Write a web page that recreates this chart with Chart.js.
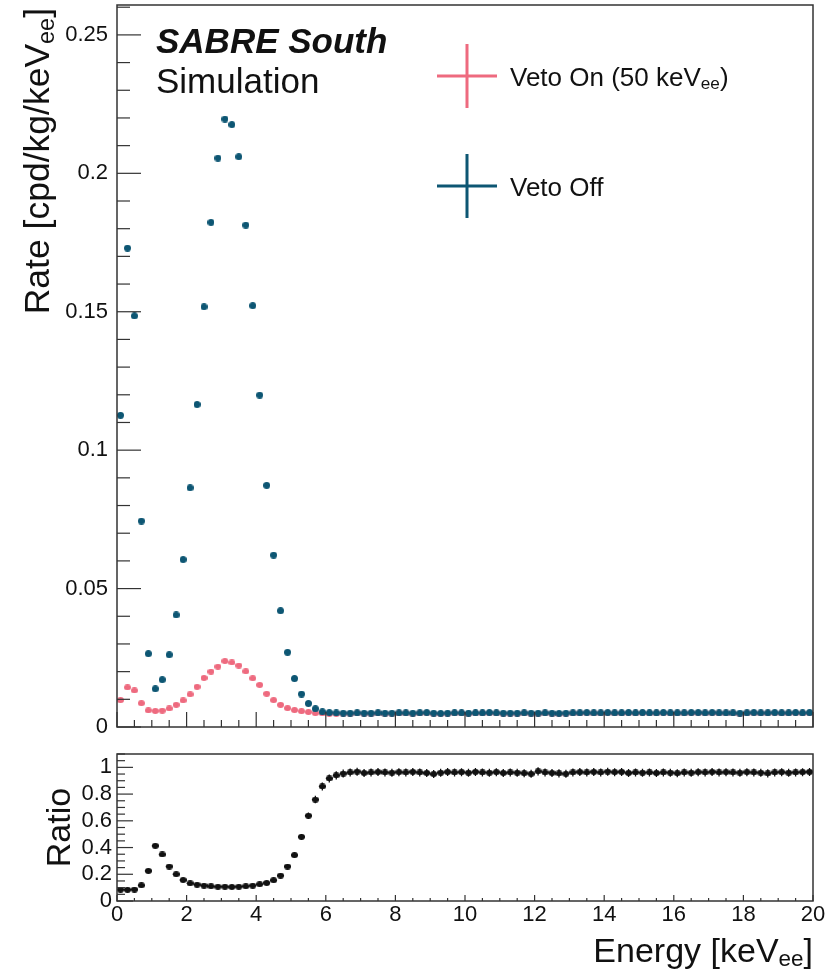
<!DOCTYPE html>
<html>
<head>
<meta charset="utf-8">
<title>SABRE South veto spectrum</title>
<script src="https://cdn.jsdelivr.net/npm/chart.js@4.4.1/dist/chart.umd.min.js"></script>
<style>
  html, body { margin: 0; padding: 0; background: #fff; }
  #page { position: relative; width: 828px; height: 971px; overflow: hidden; font-family: 'Liberation Sans', Arial, sans-serif; color: #111; }
  .box { position: absolute; left: 0; width: 828px; }
  #topBox { top: 0; height: 740px; }
  #ratioBox { top: 740px; height: 231px; }
  .lbl { position: absolute; white-space: nowrap; line-height: 1; }
  .lbl sub { font-size: 0.66em; vertical-align: -0.2em; line-height: 0; }
  .rot { transform: rotate(-90deg); transform-origin: left top; }
</style>
</head>
<body>
<div id="page">
  <div class="box" id="topBox"><canvas id="topChart"></canvas></div>
  <div class="box" id="ratioBox"><canvas id="ratioChart"></canvas></div>

  <div class="lbl" style="left:156px; top:23px; font-size:35px; font-weight:bold; font-style:italic;">SABRE South</div>
  <div class="lbl" style="left:156px; top:63px; font-size:35px;">Simulation</div>

  <div class="lbl" style="left:510px; top:64px; font-size:26px;">Veto On (50 keV<sub>ee</sub>)</div>
  <div class="lbl" style="left:510px; top:174px; font-size:26px;">Veto Off</div>

  <div class="lbl rot" style="left:20px; top:408px; width:400px; text-align:right; font-size:35.5px;">Rate [cpd/kg/keV<sub>ee</sub>]</div>
  <div class="lbl rot" style="left:41px; top:901px; width:147px; text-align:center; font-size:34px;">Ratio</div>
  <div class="lbl" style="right:15px; top:933px; font-size:34px; text-align:right;">Energy [keV<sub>ee</sub>]</div>
</div>

<script>
// 0.2 keV bins, centres in keVee
const binCenters = [
  0.1, 0.3, 0.5, 0.7, 0.9, 1.1, 1.3, 1.5, 1.7, 1.9, 2.1, 2.3, 2.5, 2.7, 2.9, 3.1, 3.3, 3.5, 3.7, 3.9,
  4.1, 4.3, 4.5, 4.7, 4.9, 5.1, 5.3, 5.5, 5.7, 5.9, 6.1, 6.3, 6.5, 6.7, 6.9, 7.1, 7.3, 7.5, 7.7, 7.9,
  8.1, 8.3, 8.5, 8.7, 8.9, 9.1, 9.3, 9.5, 9.7, 9.9, 10.1, 10.3, 10.5, 10.7, 10.9, 11.1, 11.3, 11.5, 11.7, 11.9,
  12.1, 12.3, 12.5, 12.7, 12.9, 13.1, 13.3, 13.5, 13.7, 13.9, 14.1, 14.3, 14.5, 14.7, 14.9, 15.1, 15.3, 15.5, 15.7, 15.9,
  16.1, 16.3, 16.5, 16.7, 16.9, 17.1, 17.3, 17.5, 17.7, 17.9, 18.1, 18.3, 18.5, 18.7, 18.9, 19.1, 19.3, 19.5, 19.7, 19.9
];

// rate [cpd/kg/keVee], veto off
const vetoOff = [
  0.1126, 0.1730, 0.1485, 0.0744, 0.0265, 0.0138, 0.0171, 0.0261, 0.0405, 0.0605,
  0.0864, 0.1165, 0.1518, 0.1823, 0.2055, 0.2196, 0.2176, 0.2060, 0.1813, 0.1522,
  0.1199, 0.0873, 0.0621, 0.0420, 0.0270, 0.0175, 0.0119, 0.0085, 0.0066, 0.0055,
  0.0052, 0.0051, 0.0050, 0.0050, 0.0051, 0.0050, 0.0050, 0.0051, 0.0050, 0.0050,
  0.0051, 0.0051, 0.0050, 0.0051, 0.0052, 0.0050, 0.0049, 0.0050, 0.0051, 0.0051,
  0.0050, 0.0051, 0.0051, 0.0052, 0.0051, 0.0050, 0.0050, 0.0050, 0.0051, 0.0050,
  0.0050, 0.0051, 0.0050, 0.0049, 0.0050, 0.0051, 0.0051, 0.0052, 0.0051, 0.0051,
  0.0052, 0.0051, 0.0051, 0.0052, 0.0051, 0.0052, 0.0051, 0.0051, 0.0052, 0.0051,
  0.0051, 0.0051, 0.0052, 0.0052, 0.0051, 0.0052, 0.0051, 0.0051, 0.0051, 0.0050,
  0.0051, 0.0052, 0.0051, 0.0051, 0.0052, 0.0051, 0.0051, 0.0052, 0.0051, 0.0052
];

// rate [cpd/kg/keVee], veto on (50 keVee threshold)
const vetoOn = [
  0.0097, 0.0143, 0.0132, 0.0086, 0.0060, 0.0058, 0.0059, 0.0067, 0.0080, 0.0096,
  0.0118, 0.0145, 0.0177, 0.0200, 0.0218, 0.0238, 0.0233, 0.0222, 0.0201, 0.0176,
  0.0152, 0.0120, 0.0097, 0.0080, 0.0068, 0.0061, 0.0057, 0.0054, 0.0050, 0.0049,
  0.0048, 0.0048, 0.0048, 0.0048, 0.0049, 0.0048, 0.0048, 0.0049, 0.0048, 0.0048,
  0.0049, 0.0049, 0.0048, 0.0049, 0.0050, 0.0048, 0.0047, 0.0048, 0.0049, 0.0049,
  0.0048, 0.0049, 0.0049, 0.0050, 0.0049, 0.0048, 0.0048, 0.0048, 0.0049, 0.0048,
  0.0048, 0.0049, 0.0048, 0.0047, 0.0048, 0.0049, 0.0049, 0.0050, 0.0049, 0.0049,
  0.0050, 0.0049, 0.0049, 0.0050, 0.0049, 0.0050, 0.0049, 0.0049, 0.0050, 0.0049,
  0.0049, 0.0049, 0.0050, 0.0050, 0.0049, 0.0050, 0.0049, 0.0049, 0.0049, 0.0048,
  0.0049, 0.0050, 0.0049, 0.0049, 0.0050, 0.0049, 0.0049, 0.0050, 0.0049, 0.0050
];

// veto on / veto off
const ratio = [
  0.085, 0.084, 0.086, 0.117, 0.225, 0.413, 0.348, 0.258, 0.200, 0.157,
  0.132, 0.122, 0.115, 0.110, 0.107, 0.107, 0.105, 0.107, 0.110, 0.115,
  0.125, 0.135, 0.155, 0.190, 0.258, 0.343, 0.480, 0.638, 0.759, 0.857,
  0.917, 0.940, 0.954, 0.962, 0.968, 0.958, 0.962, 0.965, 0.962, 0.960,
  0.964, 0.962, 0.966, 0.962, 0.958, 0.950, 0.960, 0.965, 0.962, 0.964,
  0.960, 0.966, 0.962, 0.960, 0.964, 0.958, 0.962, 0.960, 0.956, 0.952,
  0.970, 0.962, 0.958, 0.955, 0.952, 0.962, 0.965, 0.962, 0.966, 0.962,
  0.968, 0.964, 0.966, 0.958, 0.962, 0.960, 0.962, 0.958, 0.962, 0.960,
  0.956, 0.962, 0.960, 0.964, 0.962, 0.966, 0.962, 0.964, 0.962, 0.960,
  0.964, 0.962, 0.960, 0.955, 0.962, 0.964, 0.960, 0.962, 0.964, 0.966
];

// statistical error on the ratio
const ratioErr = [
  0.010, 0.010, 0.010, 0.010, 0.010, 0.012, 0.012, 0.010, 0.008, 0.008,
  0.008, 0.008, 0.008, 0.008, 0.008, 0.008, 0.008, 0.008, 0.008, 0.008,
  0.008, 0.008, 0.010, 0.012, 0.015, 0.018, 0.022, 0.025, 0.028, 0.030,
  0.030, 0.030, 0.030, 0.030, 0.030, 0.030, 0.030, 0.030, 0.030, 0.030,
  0.030, 0.030, 0.030, 0.030, 0.030, 0.030, 0.030, 0.030, 0.030, 0.030,
  0.030, 0.030, 0.030, 0.030, 0.030, 0.030, 0.030, 0.030, 0.030, 0.030,
  0.030, 0.030, 0.030, 0.030, 0.030, 0.030, 0.030, 0.030, 0.030, 0.030,
  0.030, 0.030, 0.030, 0.030, 0.030, 0.030, 0.030, 0.030, 0.030, 0.030,
  0.030, 0.030, 0.030, 0.030, 0.030, 0.030, 0.030, 0.030, 0.030, 0.030,
  0.030, 0.030, 0.030, 0.030, 0.030, 0.030, 0.030, 0.030, 0.030, 0.030
];

const binHalfWidth = 0.1;
const energyTicks = [0, 2, 4, 6, 8, 10, 12, 14, 16, 18, 20];
const rateTicks = [0, 0.05, 0.1, 0.15, 0.2, 0.25];
const ratioTicks = [0, 0.2, 0.4, 0.6, 0.8, 1];
const energyRange = [0, 20];
const rateRange = [0, 0.2608];
const ratioRange = [0, 1.1];

const PINK = '#ee6a7f';
const TEAL = '#0d5673';
const INK = '#111111';
const FRAME = '#333333';
const tickFont = { family: "'Liberation Sans', Arial, sans-serif", size: 22 };

// small filled ellipse used as the marker (ROOT style full circle)
function makeDot(color, w, h) {
  const c = document.createElement('canvas');
  c.width = w;
  c.height = h;
  const g = c.getContext('2d');
  g.fillStyle = color;
  g.beginPath();
  g.ellipse(w / 2, h / 2, w / 2, h / 2, 0, 0, Math.PI * 2);
  g.fill();
  return c;
}

function drawAxisTicks(ctx, scale, area, o, horizontal) {
  const n = Math.round((scale.max - scale.min) / o.minor);
  for (let i = 0; i <= n; i++) {
    const v = scale.min + i * o.minor;
    if (v > scale.max + 1e-9) break;
    const major = o.major.some(m => Math.abs(m - v) < 1e-6);
    const len = major ? o.majorLen : o.minorLen;
    const p = scale.getPixelForValue(v);
    ctx.beginPath();
    if (horizontal) {
      ctx.moveTo(p, area.bottom);
      ctx.lineTo(p, area.bottom - len);
    } else {
      ctx.moveTo(area.left, p);
      ctx.lineTo(area.left + len, p);
    }
    ctx.stroke();
  }
}

// frame + inward ROOT ticks
const rootFrame = {
  id: 'rootFrame',
  afterDraw(chart, args, o) {
    const { ctx, chartArea: a, scales } = chart;
    ctx.save();
    ctx.strokeStyle = FRAME;
    ctx.lineWidth = 1.2;
    drawAxisTicks(ctx, scales.x, a, o.x, true);
    drawAxisTicks(ctx, scales.y, a, o.y, false);
    ctx.lineWidth = 1.5;
    ctx.strokeRect(a.left, a.top, a.width, a.height);
    ctx.restore();
  }
};

// error bars for the ratio points
const errorBars = {
  id: 'errorBars',
  beforeDatasetsDraw(chart) {
    const { ctx, scales: { x, y } } = chart;
    ctx.save();
    ctx.strokeStyle = INK;
    ctx.lineWidth = 1.3;
    binCenters.forEach((e, i) => {
      const px = x.getPixelForValue(e);
      const py = y.getPixelForValue(ratio[i]);
      ctx.beginPath();
      ctx.moveTo(px, y.getPixelForValue(ratio[i] - ratioErr[i]));
      ctx.lineTo(px, y.getPixelForValue(ratio[i] + ratioErr[i]));
      ctx.moveTo(x.getPixelForValue(e - binHalfWidth), py);
      ctx.lineTo(x.getPixelForValue(e + binHalfWidth), py);
      ctx.stroke();
    });
    ctx.restore();
  }
};

// legend crosses, text is in html
const vetoLegend = {
  id: 'vetoLegend',
  afterDraw(chart, args, o) {
    const ctx = chart.ctx;
    ctx.save();
    ctx.lineWidth = 3;
    o.items.forEach(it => {
      ctx.strokeStyle = it.color;
      ctx.beginPath();
      ctx.moveTo(it.x - 30, it.y);
      ctx.lineTo(it.x + 30, it.y);
      ctx.moveTo(it.x, it.y - 32);
      ctx.lineTo(it.x, it.y + 32);
      ctx.stroke();
    });
    ctx.restore();
  }
};

const hiddenGrid = { display: false, drawTicks: false };

new Chart(document.getElementById('topChart'), {
  type: 'scatter',
  data: {
    datasets: [
      {
        label: 'Veto Off',
        data: binCenters.map((e, i) => ({ x: e, y: vetoOff[i] })),
        pointStyle: makeDot(TEAL, 7, 7),
        order: 0
      },
      {
        label: 'Veto On (50 keVee)',
        data: binCenters.map((e, i) => ({ x: e, y: vetoOn[i] })),
        pointStyle: makeDot(PINK, 7, 6),
        order: 1
      }
    ]
  },
  options: {
    animation: false,
    responsive: true,
    maintainAspectRatio: false,
    events: [],
    layout: { padding: { left: 0, right: 15, top: 5, bottom: 0 }, autoPadding: false },
    plugins: {
      legend: { display: false },
      tooltip: { enabled: false },
      rootFrame: {
        x: { minor: 0.5, major: energyTicks, majorLen: 15, minorLen: 7 },
        y: { minor: 0.01, major: rateTicks, majorLen: 24, minorLen: 13 }
      },
      vetoLegend: {
        items: [
          { x: 467, y: 76, color: PINK },
          { x: 467, y: 186, color: TEAL }
        ]
      }
    },
    scales: {
      x: {
        type: 'linear',
        min: energyRange[0],
        max: energyRange[1],
        ticks: { display: false },
        grid: hiddenGrid,
        border: { display: false },
        afterFit: s => { s.height = 13; s.paddingLeft = 0; s.paddingRight = 0; }
      },
      y: {
        min: rateRange[0],
        max: rateRange[1],
        afterBuildTicks: s => { s.ticks = rateTicks.map(v => ({ value: v })); },
        ticks: { font: tickFont, color: INK, padding: 9, callback: v => String(v) },
        grid: hiddenGrid,
        border: { display: false },
        afterFit: s => { s.width = 117; s.paddingTop = 0; s.paddingBottom = 0; }
      }
    }
  },
  plugins: [rootFrame, vetoLegend]
});

new Chart(document.getElementById('ratioChart'), {
  type: 'scatter',
  data: {
    datasets: [{
      label: 'Ratio',
      data: binCenters.map((e, i) => ({ x: e, y: ratio[i] })),
      pointStyle: makeDot(INK, 7, 6)
    }]
  },
  options: {
    animation: false,
    responsive: true,
    maintainAspectRatio: false,
    events: [],
    layout: { padding: { left: 0, right: 15, top: 14, bottom: 0 }, autoPadding: false },
    plugins: {
      legend: { display: false },
      tooltip: { enabled: false },
      rootFrame: {
        x: { minor: 0.5, major: energyTicks, majorLen: 6, minorLen: 3 },
        y: { minor: 0.05, major: ratioTicks, majorLen: 16, minorLen: 8 }
      }
    },
    scales: {
      x: {
        type: 'linear',
        min: energyRange[0],
        max: energyRange[1],
        afterBuildTicks: s => { s.ticks = energyTicks.map(v => ({ value: v })); },
        ticks: { font: tickFont, color: INK, padding: 1, maxRotation: 0, autoSkip: false, callback: v => String(v) },
        grid: hiddenGrid,
        border: { display: false },
        afterFit: s => { s.height = 70; s.paddingLeft = 0; s.paddingRight = 0; }
      },
      y: {
        min: ratioRange[0],
        max: ratioRange[1],
        afterBuildTicks: s => { s.ticks = ratioTicks.map(v => ({ value: v })); },
        ticks: { font: tickFont, color: INK, padding: 5, callback: v => String(v) },
        grid: hiddenGrid,
        border: { display: false },
        afterFit: s => { s.width = 117; s.paddingTop = 0; s.paddingBottom = 0; }
      }
    }
  },
  plugins: [errorBars, rootFrame]
});
</script>
</body>
</html>
